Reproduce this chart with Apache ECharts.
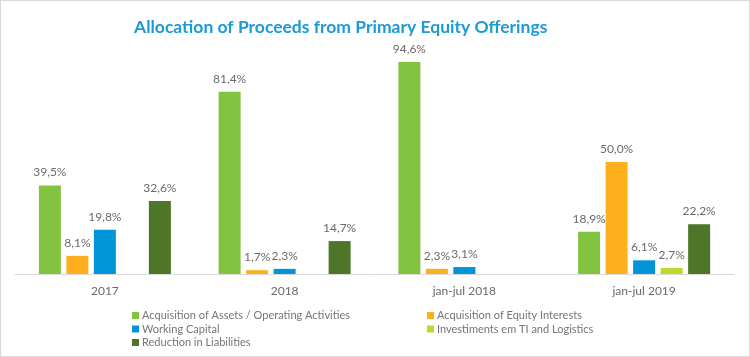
<!DOCTYPE html>
<html><head><meta charset="utf-8">
<script src="https://cdn.jsdelivr.net/npm/echarts@6/dist/echarts.min.js"></script>
<style>html,body{margin:0;padding:0;background:#fff}#c{width:748px;height:355px;border:1px solid #d9d9d9}</style>
</head><body><div id="c"></div>
<script>
const categories = ['2017', '2018', 'jan-jul 2018', 'jan-jul 2019'];
const seriesNames = ['Acquisition of Assets / Operating Activities', 'Acquisition of Equity Interests', 'Working Capital', 'Investiments em TI and Logistics', 'Reduction in Liabilities'];
const assets = [39.5, 81.4, 94.6, 18.9];
const equity = [8.1, 1.7, 2.3, 50.0];
const working = [19.8, 2.3, 3.1, 6.1];
const invest = ['-', '-', '-', 2.7];
const reduction = [32.6, 14.7, '-', 22.2];
const colors = ['#82c341', '#fdb01b', '#0095d9', '#c1d62e', '#4e7628'];
const values = [assets, equity, working, invest, reduction];

const chart = echarts.init(document.getElementById('c'));
const font = 'Lato, sans-serif';
const legendPos = [[131, 309], [426, 309], [131, 322.5], [426, 322.5], [131, 336]];
chart.setOption({
  animation: false,
  title: {text: 'Allocation of Proceeds from Primary Equity Offerings', left: 128, top: 12,
    textStyle: {color: '#1a9ad6', fontSize: 17.5, fontWeight: 'bold', fontFamily: font}},
  grid: {left: 14, right: 15, top: 49, bottom: 82},
  legend: seriesNames.map((n, i) => ({
    left: legendPos[i][0], top: legendPos[i][1], padding: 0, itemWidth: 7, itemHeight: 7, icon: 'rect',
    data: [n], textStyle: {color: '#757575', fontSize: 11, fontFamily: font, padding: [0, 0, 0, -2]}
  })),
  xAxis: {type: 'category', data: categories,
    axisLine: {lineStyle: {color: '#d9d9d9'}}, axisTick: {show: false},
    axisLabel: {color: '#6a6a6a', fontSize: 12, fontFamily: font, margin: 11}},
  yAxis: {type: 'value', min: 0, max: 100, show: false, splitLine: {show: false}},
  series: values.map((v, i) => ({
    name: seriesNames[i], type: 'bar', data: v, barWidth: 22, barGap: '25%',
    itemStyle: {color: colors[i]},
    label: {show: true, position: 'top', distance: 7, color: '#6a6a6a', fontSize: 12, fontFamily: font,
      formatter: p => p.value.toFixed(1).replace('.', ',') + '%'}
  }))
});
</script></body></html>
